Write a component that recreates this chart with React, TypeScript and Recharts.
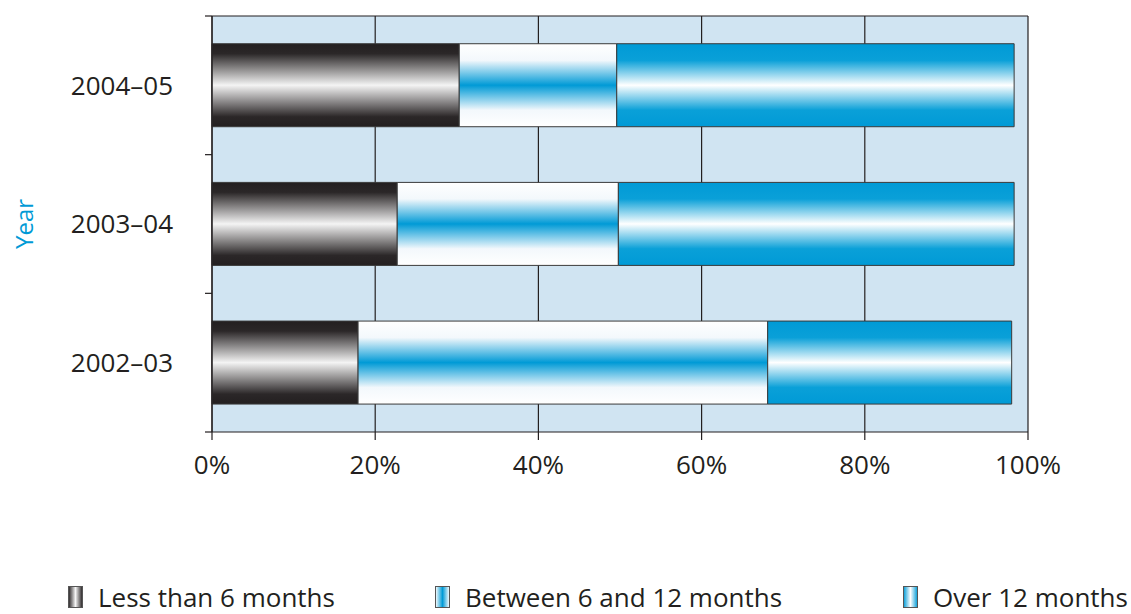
import React from "react";
import { BarChart, Bar, XAxis, YAxis, CartesianGrid } from "recharts";

const years = ["2004–05", "2003–04", "2002–03"];
const lessThan6 = [30.3, 22.7, 17.9];
const between6and12 = [19.3, 27.1, 50.2];
const over12 = [48.7, 48.5, 29.9];
const xTicks = [0, 20, 40, 60, 80, 100];
const seriesNames = ["Less than 6 months", "Between 6 and 12 months", "Over 12 months"];

const data = years.map((y, i) => ({
  year: y,
  less: lessThan6[i],
  between: between6and12[i],
  over: over12[i],
}));

const W = 1131;
const H = 614;
const M_TOP = 16;
const M_RIGHT = 103;
const Y_W = 212;
const X_H = 60;
const M_BOTTOM = 122;
const PLOT_H = H - M_TOP - M_BOTTOM - X_H;
const BAND = PLOT_H / years.length;
const INK = "#231f20";
const BLUE = "#009ad6";
const FONT = "'Open Sans', sans-serif";

const YTick = (props: any) => {
  const { y, payload, index } = props;
  const ax = Y_W;
  return (
    <g>
      <line x1={ax - 7} x2={ax} y1={y - BAND / 2} y2={y - BAND / 2} stroke={INK} strokeWidth={1.2} />
      {index === years.length - 1 && (
        <line x1={ax - 7} x2={ax} y1={y + BAND / 2} y2={y + BAND / 2} stroke={INK} strokeWidth={1.2} />
      )}
      <text x={173} y={y} dy="0.36em" textAnchor="end" fill={INK} fontSize={26} fontFamily={FONT}>
        {payload.value}
      </text>
    </g>
  );
};

const YearLabel = (props: any) => {
  const vb = props.viewBox || { y: M_TOP, height: PLOT_H };
  const cx = 23;
  const cy = vb.y + vb.height / 2;
  return (
    <text x={cx} y={cy} transform={`rotate(-90 ${cx} ${cy})`} textAnchor="middle" dominantBaseline="central" fill={BLUE} fontSize={24} fontFamily={FONT}>
      Year
    </text>
  );
};

const legendGrad = [
  [INK, "#f5f5f5", INK],
  ["#ffffff", BLUE, "#ffffff"],
  [BLUE, "#ffffff", BLUE],
];
const legendX = [68, 435, 903];

export default function App() {
  return (
    <div style={{ position: "absolute", left: 0, top: 0, width: W, height: H, overflow: "hidden", background: "#fff" }}>
      <BarChart
        width={W}
        height={H}
        data={data}
        layout="vertical"
        margin={{ top: M_TOP, right: M_RIGHT, bottom: M_BOTTOM, left: 0 }}
        barCategoryGap="20%"
      >
        <defs>
          <linearGradient id="gLess" x1="0" y1="0" x2="0" y2="1">
            <stop offset="0" stopColor={INK} />
            <stop offset="0.12" stopColor="#2b2728" />
            <stop offset="0.5" stopColor="#f4f4f4" />
            <stop offset="0.88" stopColor="#2b2728" />
            <stop offset="1" stopColor={INK} />
          </linearGradient>
          <linearGradient id="gBetween" x1="0" y1="0" x2="0" y2="1">
            <stop offset="0" stopColor="#ffffff" />
            <stop offset="0.2" stopColor="#f3f8fc" />
            <stop offset="0.5" stopColor={BLUE} />
            <stop offset="0.8" stopColor="#f3f8fc" />
            <stop offset="1" stopColor="#ffffff" />
          </linearGradient>
          <linearGradient id="gOver" x1="0" y1="0" x2="0" y2="1">
            <stop offset="0" stopColor={BLUE} />
            <stop offset="0.2" stopColor="#0aa0d8" />
            <stop offset="0.5" stopColor="#ffffff" />
            <stop offset="0.8" stopColor="#0aa0d8" />
            <stop offset="1" stopColor={BLUE} />
          </linearGradient>
        </defs>
        <CartesianGrid
          fill="#d0e4f2"
          fillOpacity={1}
          stroke={INK}
          strokeWidth={1.2}
          vertical={true}
          horizontal={true}
          horizontalPoints={[M_TOP]}
        />
        <XAxis
          type="number"
          domain={[0, 100]}
          ticks={xTicks}
          tickFormatter={(v: number) => `${v}%`}
          height={X_H}
          tickSize={8}
          tickMargin={16}
          axisLine={{ stroke: INK, strokeWidth: 1.2 }}
          tickLine={{ stroke: INK, strokeWidth: 1.2 }}
          tick={{ fill: INK, fontSize: 26, fontFamily: FONT }}
          interval={0}
        />
        <YAxis
          type="category"
          dataKey="year"
          width={Y_W}
          tickLine={false}
          axisLine={{ stroke: INK, strokeWidth: 1.2 }}
          tick={<YTick />}
          label={<YearLabel />}
          interval={0}
        />
        <Bar dataKey="less" stackId="a" name={seriesNames[0]} fill="url(#gLess)" stroke="#3a3a3a" strokeWidth={1} isAnimationActive={false} />
        <Bar dataKey="between" stackId="a" name={seriesNames[1]} fill="url(#gBetween)" stroke="#3a3a3a" strokeWidth={1} isAnimationActive={false} />
        <Bar dataKey="over" stackId="a" name={seriesNames[2]} fill="url(#gOver)" stroke="#3a3a3a" strokeWidth={1} isAnimationActive={false} />
      </BarChart>
      {seriesNames.map((name, i) => (
        <div
          key={name}
          style={{
            position: "absolute",
            left: legendX[i],
            top: 582,
            display: "flex",
            alignItems: "center",
            fontFamily: FONT,
            fontSize: 26,
            color: INK,
            whiteSpace: "nowrap",
            lineHeight: "30px",
          }}
        >
          <svg width={15} height={22} style={{ marginRight: 15 }}>
            <defs>
              <linearGradient id={`lg${i}`} x1="0" y1="0" x2="1" y2="0">
                <stop offset="0" stopColor={legendGrad[i][0]} />
                <stop offset="0.5" stopColor={legendGrad[i][1]} />
                <stop offset="1" stopColor={legendGrad[i][2]} />
              </linearGradient>
            </defs>
            <rect x={0.5} y={0.5} width={14} height={21} fill={`url(#lg${i})`} stroke="#555" strokeWidth={1} />
          </svg>
          <span>{name}</span>
        </div>
      ))}
    </div>
  );
}
